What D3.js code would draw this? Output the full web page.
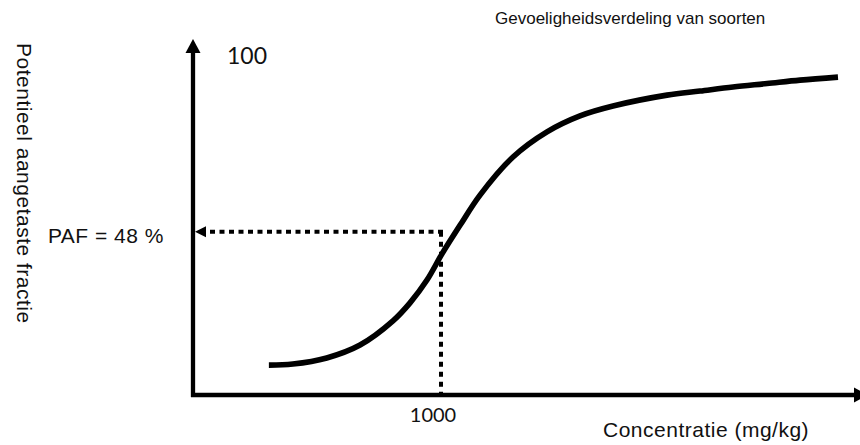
<!DOCTYPE html>
<html>
<head>
<meta charset="utf-8">
<script src="https://cdn.jsdelivr.net/npm/d3@7"></script>
<style>
  html, body { margin: 0; padding: 0; background: #fff; }
  svg { display: block; }
</style>
</head>
<body>
<svg id="chart" width="860" height="445"></svg>
<script>
// ---- data ----
const concentrations = [19, 33, 72, 155, 331, 490, 724, 1023, 1549, 2455, 5248, 11480, 24550, 52480, 181970, 389000, 831800, 1820000, 3890000, 9330000];
const fractions      = [8.8, 9.1, 10.9, 14.7, 21.8, 27.1, 33.8, 41.5, 49.9, 58.8, 70.0, 77.4, 82.1, 85.0, 88.2, 89.4, 90.6, 91.6, 92.6, 93.5];
const markConcentration = 1000;
const markFraction = 48;
const yTickLabels = ["100"];
const xTickLabels = ["1000"];
const titleText = "Gevoeligheidsverdeling van soorten";
const xTitle = "Concentratie (mg/kg)";
const yTitle = "Potentieel aangetaste fractie";
const pafLabel = "PAF = 48 %";

// ---- layout ----
const svg = d3.select("#chart");
const x = d3.scaleLog().domain([Math.pow(10, 0.52), Math.pow(10, 7.17)]).range([193, 858]);
const y = d3.scaleLinear().domain([0, 100]).range([395, 55]);

const x0 = x.range()[0], y0 = y(0);
const font = "'Liberation Sans', Arial, Helvetica, sans-serif";
const numFont = "Lato, 'Open Sans', sans-serif";

// axes with arrowheads
svg.append("line").attr("x1", x0 - 2).attr("x2", 856).attr("y1", y0).attr("y2", y0)
  .attr("stroke", "#000").attr("stroke-width", 4.3);
svg.append("path").attr("d", `M854,${y0 - 7.5} L868,${y0} L854,${y0 + 7.5} Z`).attr("fill", "#000");

svg.append("line").attr("x1", x0).attr("x2", x0).attr("y1", y0 + 2).attr("y2", 50)
  .attr("stroke", "#000").attr("stroke-width", 4.3);
svg.append("path").attr("d", `M${x0 - 7.5},53 L${x0},39 L${x0 + 7.5},53 Z`).attr("fill", "#000");

// dotted reference lines
const mx = x(markConcentration), my = y(markFraction);
svg.append("line").attr("x1", mx + 2).attr("x2", x0 + 11).attr("y1", my).attr("y2", my)
  .attr("stroke", "#000").attr("stroke-width", 4).attr("stroke-dasharray", "5,4.5");
svg.append("path").attr("d", `M${x0 + 13},${my - 5.5} L${x0 + 2},${my} L${x0 + 13},${my + 5.5} Z`).attr("fill", "#000");
svg.append("line").attr("x1", mx).attr("x2", mx).attr("y1", my).attr("y2", y0 + 5)
  .attr("stroke", "#000").attr("stroke-width", 4).attr("stroke-dasharray", "5,5");

// curve
const data = concentrations.map((c, i) => ({c, f: fractions[i]}));
svg.append("path").datum(data)
  .attr("fill", "none").attr("stroke", "#000").attr("stroke-width", 5.6)
  .attr("d", d3.line().x(d => x(d.c)).y(d => y(d.f)).curve(d3.curveCatmullRom.alpha(0.5)));

// texts
svg.append("text").attr("x", 227).attr("y", y(100) + 9).text(yTickLabels[0])
  .attr("font-family", numFont).attr("font-weight", 400).attr("font-size", 23).attr("fill", "#111");
svg.append("text").attr("x", mx - 8).attr("y", 422).attr("text-anchor", "middle").text(xTickLabels[0])
  .attr("font-family", numFont).attr("font-weight", 400).attr("font-size", 20).attr("fill", "#111");
svg.append("text").attr("x", 164).attr("y", my + 11).attr("text-anchor", "end").text(pafLabel)
  .attr("font-family", font).attr("font-size", 21).attr("letter-spacing", 0.5).attr("fill", "#111");
svg.append("text").attr("x", 603).attr("y", 437).text(xTitle)
  .attr("font-family", font).attr("font-size", 21).attr("letter-spacing", 0.5).attr("fill", "#111");
svg.append("text").attr("x", 495).attr("y", 24).text(titleText)
  .attr("font-family", font).attr("font-size", 17).attr("fill", "#111");
svg.append("text").attr("transform", "translate(17,43) rotate(90)").text(yTitle)
  .attr("font-family", font).attr("font-size", 21).attr("letter-spacing", 0.5).attr("fill", "#111");
</script>
</body>
</html>
